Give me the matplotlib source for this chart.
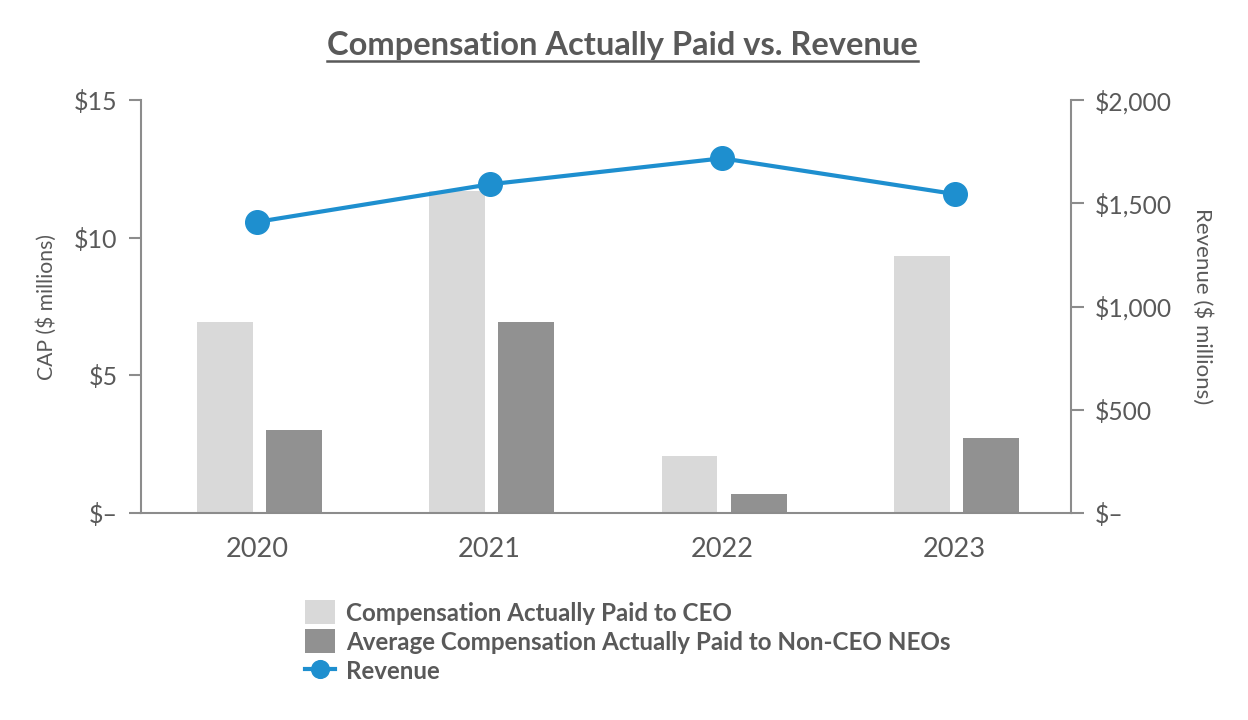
import matplotlib
matplotlib.use("Agg")
import matplotlib.pyplot as plt
from matplotlib.lines import Line2D
import numpy as np

# data
years = ["2020", "2021", "2022", "2023"]
cap_ceo = [6.95, 11.7, 2.08, 9.33]
cap_neo = [3.02, 6.95, 0.7, 2.73]
revenue = [1410, 1592, 1718, 1545]

cap_ticks = [0, 5, 10, 15]
cap_tick_labels = ["$\u2013", "$5", "$10", "$15"]
rev_ticks = [0, 500, 1000, 1500, 2000]
rev_tick_labels = ["$\u2013", "$500", "$1,000", "$1,500", "$2,000"]

plt.rcParams["font.family"] = ["Lato", "DejaVu Sans"]
text_col = "#595959"
axis_col = "#8c8c8c"

fig = plt.figure(figsize=(12.48, 7.2), dpi=100)
ax = fig.add_axes([0.113, 0.2875, 0.745, 0.5735])
ax2 = ax.twinx()

x = np.arange(len(years))
w = 0.24
ax.bar(x - 0.14, cap_ceo, width=w, color="#d9d9d9", label="Compensation Actually Paid to CEO", zorder=2)
ax.bar(x + 0.157, cap_neo, width=w, color="#919191", label="Average Compensation Actually Paid to Non-CEO NEOs", zorder=2)
ax2.plot(x, revenue, color="#1e8fcf", lw=3, marker="o", markersize=17, label="Revenue", zorder=3)

ax.set_xlim(-0.5, 3.5)
ax.set_ylim(0, 15)
ax2.set_ylim(0, 2000)
ax.set_xticks(x)
ax.set_xticklabels(years)
ax.set_yticks(cap_ticks)
ax.set_yticklabels(cap_tick_labels)
ax2.set_yticks(rev_ticks)
ax2.set_yticklabels(rev_tick_labels)

for a in (ax, ax2):
    a.spines["top"].set_visible(False)
    for s in ("left", "right", "bottom"):
        a.spines[s].set_color(axis_col)
        a.spines[s].set_linewidth(1.5)
ax.spines["right"].set_visible(False)
ax2.spines["left"].set_visible(False)
ax2.spines["bottom"].set_visible(False)

ax.tick_params(axis="x", length=0, labelsize=19.5, labelcolor=text_col, pad=17)
ax.tick_params(axis="y", length=9, width=1.5, color=axis_col, labelsize=18, labelcolor=text_col, pad=8)
ax2.tick_params(axis="y", length=9, width=1.5, color=axis_col, labelsize=17.7, labelcolor=text_col, pad=8)

ax.set_ylabel("CAP ($ millions)", fontsize=15.2, color=text_col, labelpad=12)
ax2.set_ylabel("Revenue ($ millions)", fontsize=16, color=text_col, rotation=270, labelpad=30)

# title with underline
title = fig.text(0.4985, 0.937, "Compensation Actually Paid vs. Revenue", ha="center", va="center",
                 fontsize=23.5, fontweight="bold", color=text_col)
fig.canvas.draw()
bb = title.get_window_extent(renderer=fig.canvas.get_renderer()).transformed(fig.transFigure.inverted())
fig.add_artist(Line2D([bb.x0, bb.x1], [bb.y0 - 0.002, bb.y0 - 0.002], transform=fig.transFigure,
                      color=text_col, lw=1.8))

h1, l1 = ax.get_legend_handles_labels()
h2, l2 = ax2.get_legend_handles_labels()
leg = fig.legend(h1 + h2, l1 + l2, loc="upper left", bbox_to_anchor=(0.2445, 0.166),
                 frameon=False, prop={"family": ["Lato", "DejaVu Sans"], "weight": "bold", "size": 17.4},
                 labelcolor=text_col, handlelength=1.25, handleheight=1.15, handletextpad=0.45,
                 labelspacing=0.2, borderpad=0, borderaxespad=0, markerscale=0.75)

fig.savefig("out.png", dpi=100)
